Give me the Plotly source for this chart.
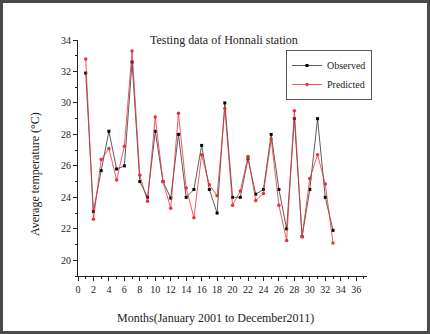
import plotly.graph_objects as go

months = list(range(1, 34))
observed = [31.9, 23.1, 25.7, 28.2, 25.8, 26.0, 32.6, 25.0, 24.0, 28.2,
            25.0, 23.95, 28.0, 24.0, 24.5, 27.3, 24.5, 23.0, 30.0, 24.0,
            24.0, 26.45, 24.2, 24.5, 28.0, 24.5, 22.0, 29.0, 21.5, 24.5,
            29.0, 24.0, 21.9]
predicted = [32.8, 22.6, 26.4, 27.1, 25.1, 27.25, 33.3, 25.4, 23.75, 29.1,
             25.0, 23.3, 29.35, 24.6, 22.7, 26.7, 24.8, 24.1, 29.65, 23.5,
             24.4, 26.6, 23.8, 24.25, 27.7, 23.5, 21.25, 29.5, 21.5, 25.2,
             26.7, 24.85, 21.1]

FONT = "Liberation Serif, Times New Roman, serif"

fig = go.Figure()
fig.add_trace(go.Scatter(x=months, y=observed, name="Observed", mode="lines+markers",
                         line=dict(color="#333333", width=0.8),
                         marker=dict(symbol="square", size=3, color="#000000")))
fig.add_trace(go.Scatter(x=months, y=predicted, name="Predicted", mode="lines+markers",
                         line=dict(color="#e8303a", width=0.8),
                         marker=dict(symbol="circle", size=3.5, color="#e8303a")))

# plot area: left 78, right 367, top 40, bottom 276 (px)
L, R, T, B = 78, 63, 40, 58
pw, ph = 430 - L - R, 334 - T - B

def px(x):
    return (x - L) / pw

def py(y):
    return (334 - B - y) / ph

fig.update_layout(
    width=430, height=334,
    margin=dict(l=L, r=R, t=T, b=B),
    paper_bgcolor="white", plot_bgcolor="white",
    font=dict(family=FONT, size=10, color="#222222"),
    showlegend=True,
    legend=dict(x=px(286), y=py(50), xanchor="left", yanchor="top",
                bordercolor="#555555", borderwidth=1, bgcolor="white",
                font=dict(family=FONT, size=10, color="#222222"),
                itemwidth=30, tracegroupgap=0),
    xaxis=dict(range=[0, 37.4], dtick=2, tick0=0, showgrid=False, zeroline=False,
               showline=True, linecolor="#222222", linewidth=1,
               ticks="outside", ticklen=4, tickcolor="#222222",
               minor=dict(dtick=1, ticks="outside", ticklen=2, tickcolor="#222222"),
               tickfont=dict(family=FONT, size=10)),
    yaxis=dict(range=[19, 34], dtick=2, tick0=20, showgrid=False, zeroline=False,
               showline=True, linecolor="#222222", linewidth=1,
               ticks="outside", ticklen=4, tickcolor="#222222",
               minor=dict(dtick=1, ticks="outside", ticklen=2, tickcolor="#222222"),
               tickfont=dict(family=FONT, size=10)),
    annotations=[
        dict(text="Testing data of Honnali station", xref="paper", yref="paper",
             x=px(224), y=py(40), xanchor="center", yanchor="middle", showarrow=False,
             font=dict(family=FONT, size=12, color="#222222")),
        dict(text="Months(January 2001 to December2011)", xref="paper", yref="paper",
             x=px(215), y=py(318), xanchor="center", yanchor="middle", showarrow=False,
             font=dict(family=FONT, size=12, color="#222222")),
        dict(text="Average temperature (°C)", xref="paper", yref="paper",
             x=px(35), y=py(174), xanchor="center", yanchor="middle", showarrow=False,
             textangle=-90, font=dict(family=FONT, size=12, color="#222222")),
    ],
    shapes=[
        dict(type="rect", xref="paper", yref="paper",
             x0=px(1.5), x1=px(428.5), y0=py(332.5), y1=py(1.5),
             line=dict(color="#4a4a4a", width=3), layer="below"),
    ],
)

fig.write_html("out.html", config={"displayModeBar": False},
               post_script="document.body.style.margin='0';document.body.style.overflow='hidden';")
